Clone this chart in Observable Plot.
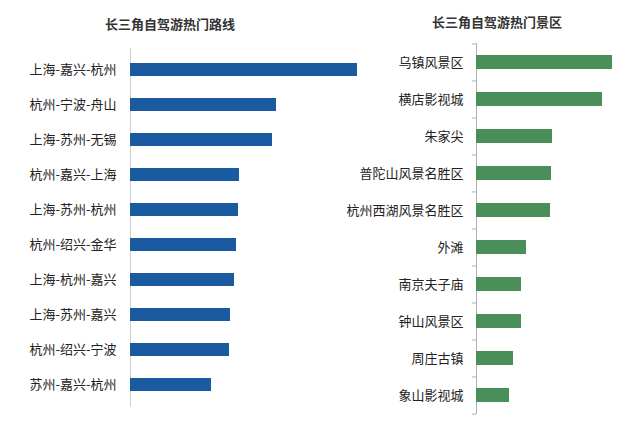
<!DOCTYPE html>
<html>
<head>
<meta charset="utf-8">
<script src="https://cdn.jsdelivr.net/npm/d3@7"></script>
<script src="https://cdn.jsdelivr.net/npm/@observablehq/plot@0.6"></script>
<style>
  html, body { margin: 0; padding: 0; background: #fff; }
  #wrap { position: relative; width: 640px; height: 430px; overflow: hidden; font-family: "Noto Sans CJK SC", "Noto Sans", sans-serif; }
  .title { position: absolute; font-size: 13px; font-weight: bold; color: #333; transform: translate(-50%, -50%); white-space: nowrap; }
  .chart { position: absolute; top: 0; }
</style>
</head>
<body>
<div id="wrap">
  <div class="title" id="t1" style="left:170px; top:23px;"></div>
  <div class="title" id="t2" style="left:497px; top:21px;"></div>
  <div class="chart" id="c1" style="left:0px;"></div>
  <div class="chart" id="c2" style="left:330px;"></div>
</div>
<script>
const routeTitle = "长三角自驾游热门路线";
const routes = ["上海-嘉兴-杭州", "杭州-宁波-舟山", "上海-苏州-无锡", "杭州-嘉兴-上海", "上海-苏州-杭州", "杭州-绍兴-金华", "上海-杭州-嘉兴", "上海-苏州-嘉兴", "杭州-绍兴-宁波", "苏州-嘉兴-杭州"];
const routeValues = [227, 146, 142, 109, 108, 106, 104, 100, 99, 81];

const spotTitle = "长三角自驾游热门景区";
const spots = ["乌镇风景区", "横店影视城", "朱家尖", "普陀山风景名胜区", "杭州西湖风景名胜区", "外滩", "南京夫子庙", "钟山风景区", "周庄古镇", "象山影视城"];
const spotValues = [136, 126, 76, 75, 74, 50, 45, 45, 37, 33];

document.getElementById("t1").textContent = routeTitle;
document.getElementById("t2").textContent = spotTitle;

const font = '"Noto Sans CJK SC", "Noto Sans", sans-serif';
const routeData = routes.map((name, i) => ({name, value: routeValues[i]}));
const spotData = spots.map((name, i) => ({name, value: spotValues[i]}));

const left = Plot.plot({
  width: 370, height: 430,
  marginLeft: 130, marginRight: 0, marginTop: 48, marginBottom: 23,
  style: {fontFamily: font, fontSize: "13px", color: "#222", background: "transparent", overflow: "visible"},
  x: {domain: [0, 240], axis: null},
  y: {domain: routes, paddingInner: 0.62, paddingOuter: 0.31, label: null},
  marks: [
    Plot.ruleX([0], {stroke: "#d0d0d0", strokeWidth: 1}),
    Plot.barX(routeData, {y: "name", x: "value", fill: "#1a5aa0"}),
    Plot.axisY({tickSize: 0, tickPadding: 14, fontSize: 13, fill: "#222"})
  ]
});
document.getElementById("c1").appendChild(left);

const step = (414 - 43) / spots.length;
const right = Plot.plot({
  width: 310, height: 430,
  marginLeft: 146, marginRight: 0, marginTop: 43, marginBottom: 16,
  style: {fontFamily: font, fontSize: "13px", color: "#222", background: "transparent", overflow: "visible"},
  x: {domain: [0, 164], axis: null},
  y: {domain: spots, paddingInner: 0.62, paddingOuter: 0.31, label: null},
  marks: [
    Plot.ruleX([0], {stroke: "#b0b0b0", strokeWidth: 1}),
    Plot.ruleY(spotData, {y: "name", x1: -4, x2: 0, dy: -step / 2, stroke: "#b0b0b0"}),
    Plot.ruleY(spotData.slice(-1), {y: "name", x1: -4, x2: 0, dy: step / 2, stroke: "#b0b0b0"}),
    Plot.barX(spotData, {y: "name", x: "value", fill: "#4a8f5a"}),
    Plot.axisY({tickSize: 0, tickPadding: 13, fontSize: 13, fill: "#222"})
  ]
});
document.getElementById("c2").appendChild(right);
</script>
</body>
</html>
